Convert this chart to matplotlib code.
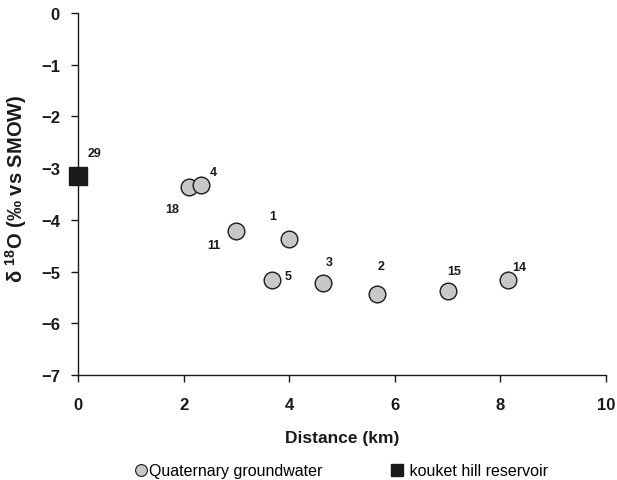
import matplotlib
matplotlib.use("Agg")
import matplotlib.pyplot as plt
from matplotlib.lines import Line2D

plt.rcParams['font.family'] = ['Liberation Sans', 'DejaVu Sans']
plt.rcParams['mathtext.fontset'] = 'custom'
plt.rcParams['mathtext.rm'] = 'Liberation Sans'
plt.rcParams['mathtext.bf'] = 'Liberation Sans:bold'

# Quaternary groundwater
gw_ids = ['18', '4', '11', '1', '5', '3', '2', '15', '14']
gw_dist = [2.10, 2.33, 2.99, 4.00, 3.67, 4.64, 5.66, 7.00, 8.15]
gw_d18o = [-3.37, -3.33, -4.22, -4.37, -5.16, -5.22, -5.44, -5.38, -5.16]

# Reservoir
res_ids = ['29']
res_dist = [0.0]
res_d18o = [-3.15]

x_ticks = [0, 2, 4, 6, 8, 10]
y_ticks = [0, -1, -2, -3, -4, -5, -6, -7]

label_offsets = {
    '29': (17, 23), '4': (12, 13), '18': (-17, -22), '11': (-22, -14),
    '1': (-16, 23), '5': (16, 4), '3': (6, 21), '2': (4, 28),
    '15': (7, 20), '14': (11, 13),
}

fig = plt.figure(figsize=(6.17, 4.81), dpi=100)
ax = fig.add_axes([0.1264, 0.2183, 0.8556, 0.7527])

ax.plot(gw_dist, gw_d18o, 'o', ms=12, mfc='#c8c8c8', mec='#1a1a1a', mew=1.0,
        clip_on=False, zorder=3)
ax.plot(res_dist, res_d18o, 's', ms=13.5, mfc='#1a1a1a', mec='#1a1a1a',
        clip_on=False, zorder=4)

for i, x, y in zip(gw_ids + res_ids, gw_dist + res_dist, gw_d18o + res_d18o):
    dx, dy = label_offsets[i]
    ax.annotate(i, (x, y), xytext=(dx, dy), textcoords='offset pixels',
                ha='center', va='center', fontsize=9, fontweight='bold',
                color='#1a1a1a')

ax.set_xlim(0, 10)
ax.set_ylim(-7, 0)
ax.set_xticks(x_ticks)
ax.set_yticks(y_ticks)
for s in ['top', 'right']:
    ax.spines[s].set_visible(False)
for s in ['left', 'bottom']:
    ax.spines[s].set_color('#1a1a1a')
    ax.spines[s].set_linewidth(1.0)
ax.tick_params(direction='out', length=5, width=1.0, color='#1a1a1a',
               labelsize=12)
ax.tick_params(axis='x', pad=11)
ax.tick_params(axis='y', pad=8)
for lab in ax.get_xticklabels() + ax.get_yticklabels():
    lab.set_fontweight('bold')
    lab.set_color('#1a1a1a')

ax.set_xlabel('Distance (km)', fontsize=12.5, fontweight='bold', labelpad=13,
              color='#1a1a1a')
ax.set_ylabel(r'δ $^{\mathbf{18}}$O (‰ vs SMOW)', fontsize=14.5,
              fontweight='bold', color='#1a1a1a')
ax.yaxis.set_label_coords(-0.093, 0.518)

handles = [
    Line2D([], [], ls='none', marker='o', ms=8.5, mfc='#c8c8c8', mec='#1a1a1a', mew=0.8),
    Line2D([], [], ls='none', marker='s', ms=9, mfc='#1a1a1a', mec='#1a1a1a'),
]
fig.legend(handles, ['Quaternary groundwater', ' kouket hill reservoir'],
           loc='center', bbox_to_anchor=(0.552, 0.019), ncol=2, frameon=False,
           fontsize=11.5, handletextpad=0.0, columnspacing=4.2, handlelength=1.0)

fig.savefig('out.png', dpi=100)
